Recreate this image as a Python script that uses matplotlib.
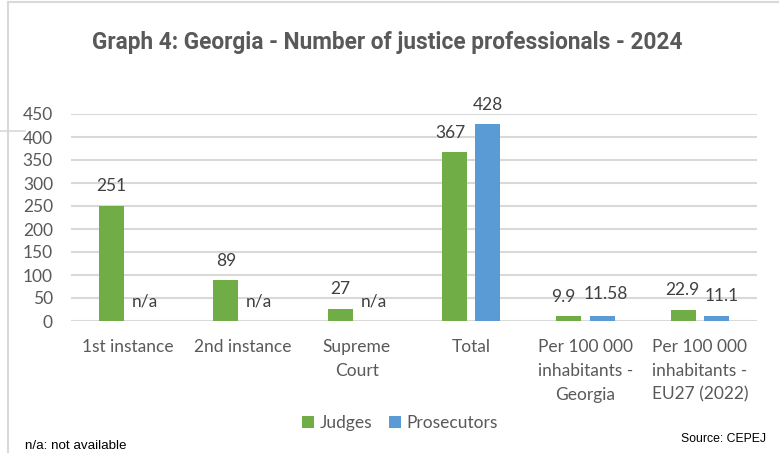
import matplotlib
matplotlib.use("Agg")
import matplotlib.pyplot as plt
from matplotlib.lines import Line2D
from matplotlib.patches import Patch
import numpy as np

categories = ["1st instance", "2nd instance", "Supreme\nCourt", "Total",
              "Per 100 000\ninhabitants -\nGeorgia",
              "Per 100 000\ninhabitants -\nEU27 (2022)"]
judges = [251, 89, 27, 367, 9.9, 22.9]
prosecutors = [None, None, None, 428, 11.58, 11.1]
judge_labels = ["251", "89", "27", "367", "9.9", "22.9"]
prosecutor_labels = ["n/a", "n/a", "n/a", "428", "11.58", "11.1"]
yticks = [0, 50, 100, 150, 200, 250, 300, 350, 400, 450]

GREEN = "#70AD47"
BLUE = "#5B9BD5"
GRID = "#D9D9D9"
TEXT = "#595959"
LABEL = "#404040"
FONT = "Lato"

W, H = 779, 453
fig = plt.figure(figsize=(W / 100, H / 100), dpi=100)
ax = fig.add_axes([71 / W, 1 - 321 / H, (757 - 71) / W, (321 - 114) / H])

x = np.arange(len(categories))
bw = 0.22
off = 0.145
jp = x - off
pp = x + off
ax.bar(jp, judges, bw, color=GREEN, zorder=3)
pvals = [v if v is not None else 0 for v in prosecutors]
ax.bar(pp, pvals, bw, color=BLUE, zorder=3)

ax.set_xlim(-0.5, len(categories) - 0.5)
ax.set_ylim(0, 450)
ax.set_yticks(yticks)
ax.yaxis.grid(True, color=GRID, linewidth=1.5, zorder=0)
ax.set_axisbelow(True)
for s in ax.spines.values():
    s.set_visible(False)
ax.tick_params(axis="both", length=0)
ax.tick_params(axis="y", pad=13, labelsize=12.5, labelcolor=TEXT)
ax.set_yticklabels([str(t) for t in yticks], fontfamily=FONT)
ax.set_xticks(x)
ax.set_xticklabels(categories, fontfamily=FONT, fontsize=12.5, color=TEXT,
                   linespacing=1.6, va="top")
ax.tick_params(axis="x", pad=13)

# value labels above the bars (small horizontal nudges keep neighbours apart)
j_dx = [0, 0, 0, -3, -4, -1]
p_dx = [0, 0, 0, 0, 3, 4]
j_dy = [14, 14, 14, 14, 14, 14.5]
p_dy = [14, 14, 14, 14, 15.5, 14]
for i in range(len(categories)):
    ax.annotate(judge_labels[i], (jp[i], judges[i]), xytext=(j_dx[i], j_dy[i]),
                textcoords="offset points", ha="center", va="center",
                fontsize=12.5, color=LABEL, fontfamily=FONT, annotation_clip=False)
    ax.annotate(prosecutor_labels[i], (pp[i], pvals[i]), xytext=(p_dx[i], p_dy[i]),
                textcoords="offset points", ha="center", va="center",
                fontsize=12.5, color=LABEL, fontfamily=FONT, annotation_clip=False)

fig.text(387 / W, 1 - 42 / H, "Graph 4: Georgia - Number of justice professionals - 2024",
         ha="center", va="center", fontsize=16.3, fontweight="bold",
         color=TEXT, fontfamily="Roboto")

handles = [Patch(facecolor=GREEN, label="Judges"), Patch(facecolor=BLUE, label="Prosecutors")]
fig.legend(handles=handles, loc="center", bbox_to_anchor=(400 / W, 1 - 423 / H),
           ncol=2, frameon=False, handlelength=0.7, handleheight=0.7,
           handletextpad=0.3, columnspacing=1.0,
           prop={"family": FONT, "size": 12.5}, labelcolor=TEXT)

fig.text(25 / W, 1 - 446 / H, "n/a: not available", ha="left", va="center",
         fontsize=9.6, color="#000000", fontfamily="Liberation Sans")
fig.text(766 / W, 1 - 439 / H, "Source: CEPEJ", ha="right", va="center",
         fontsize=8.8, color="#000000", fontfamily="Liberation Sans")

# chart frame
fig.add_artist(Line2D([7.5 / W, 7.5 / W], [0, 1 - 1.5 / H], color=GRID, linewidth=1.5))
fig.add_artist(Line2D([7.5 / W, 1], [1 - 1.5 / H, 1 - 1.5 / H], color=GRID, linewidth=1.5))
fig.add_artist(Line2D([0, 25 / W], [1 - 131 / H, 1 - 131 / H], color=GRID, linewidth=1.2))

fig.savefig("out.png", dpi=100)
